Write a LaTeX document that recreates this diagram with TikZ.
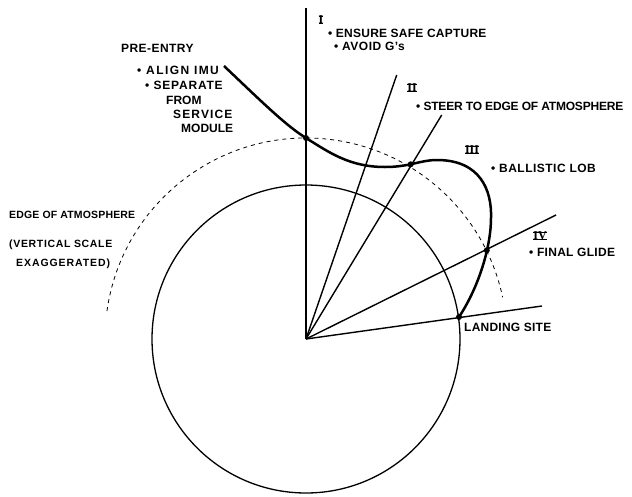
\documentclass[tikz,border=0pt]{standalone}
\usepackage{fontspec}
\usetikzlibrary{calc}
\setmainfont{Liberation Sans}
\newfontfamily\numfont{Liberation Serif}
\newcommand\barnum[1]{{\numfont\bfseries\setbox0\hbox{#1}\rlap{\rule[\dimexpr\ht0-0.9pt\relax]{\wd0}{0.9pt}}\rlap{\rule{\wd0}{0.9pt}}\box0}}
\begin{document}
\begin{tikzpicture}[x=1pt,y=-1pt,
  lab/.style={font=\bfseries\fontsize{12}{13}\selectfont\addfontfeature{LetterSpace=#1}, anchor=base west, inner sep=0pt},
  lab/.default=0,
  labsm/.style={font=\bfseries\fontsize{10.5}{12}\selectfont\addfontfeature{LetterSpace=#1}, anchor=base west, inner sep=0pt},
  labsm/.default=0,
  rnum/.style={font=\numfont\bfseries\fontsize{12}{13}\selectfont, anchor=center, inner sep=0pt},
  radial/.style={line width=1.4pt},
  earth/.style={line width=1.3pt},
  atmos/.style={line width=0.8pt, dash pattern=on 4pt off 4pt},
  traj/.style={line width=2.5pt, line join=round},
  event/.style={circle, fill=black, inner sep=0pt, minimum size=6pt}]
\useasboundingbox (0,0) rectangle (632,496);
% centre of the earth
\coordinate (O) at (306,339);
% radial line ends
\coordinate (R1) at (306,8);
\coordinate (R2) at (396.7,75);
\coordinate (R3) at (441.7,115);
\coordinate (R4) at (556,215);
\coordinate (R5) at (542,306);
% earth
\draw[earth] (O) circle[radius=154];
% edge of atmosphere
\draw[atmos] ($(O)+(188:201)$) arc[start angle=188, end angle=348, radius=201];
% radial lines
\foreach \r in {R1,R2,R3,R4,R5} \draw[radial] (O) -- (\r);
% trajectory
\coordinate (start) at (224,66);
\coordinate (E) at (306,138);
\coordinate (T1) at (385,167);
\coordinate (T2) at (437,160);
\coordinate (T3) at (491,218);
\coordinate (L) at (459,317);
\draw[traj] (start) .. controls (260,100) and (285,125) .. (E)
  .. controls (330,153) and (350,167) .. (T1)
  .. controls (410,167) and (420,160) .. (T2)
  .. controls (480,160) and (492,190) .. (T3)
  .. controls (491,245) and (480,285) .. (L);
\node[event] (entry) at (E) {};
\node[event] (skip) at (410.7,164.3) {};
\node[event] (glide) at (486.8,250.3) {};
\node[event] (land) at (L) {};
% phase numerals
\node[rnum] (n1) at (321,19.5) {\barnum{I}};
\node[rnum] (n2) at (412,87.5) {\barnum{II}};
\node[rnum] (n3) at (472,150) {\barnum{III}};
\node[rnum] (n4) at (540,236) {\barnum{IV}};
% labels
\node[lab=2] (t1) at (328,37.7) {• ENSURE SAFE CAPTURE};
\node[lab=4] (t2) at (334,50.7) {• AVOID G's};
\node[lab=-1.7] (t3) at (416,110) {• STEER TO EDGE OF ATMOSPHERE};
\node[lab=4] (t4) at (491,172) {• BALLISTIC LOB};
\node[lab=2.5] (t5) at (529,256) {• FINAL GLIDE};
\node[lab=2] (t6) at (464,331) {LANDING SITE};
\node[lab=3.7] (p0) at (121,52.3) {PRE-ENTRY};
\node[lab=12] (p1) at (137,74) {• ALIGN IMU};
\node[lab=6.7] (p2) at (145,89.3) {• SEPARATE};
\node[lab] (p3) at (166,104) {FROM};
\node[lab=9.5] (p4) at (173,118) {SERVICE};
\node[lab] (p5) at (181,132) {MODULE};
\node[labsm=1.6] (e1) at (9,218) {EDGE OF ATMOSPHERE};
\node[labsm=6.3] (e2) at (9,247) {(VERTICAL SCALE};
\node[labsm=8.7] (e3) at (16,266) {EXAGGERATED)};
\end{tikzpicture}
\end{document}
